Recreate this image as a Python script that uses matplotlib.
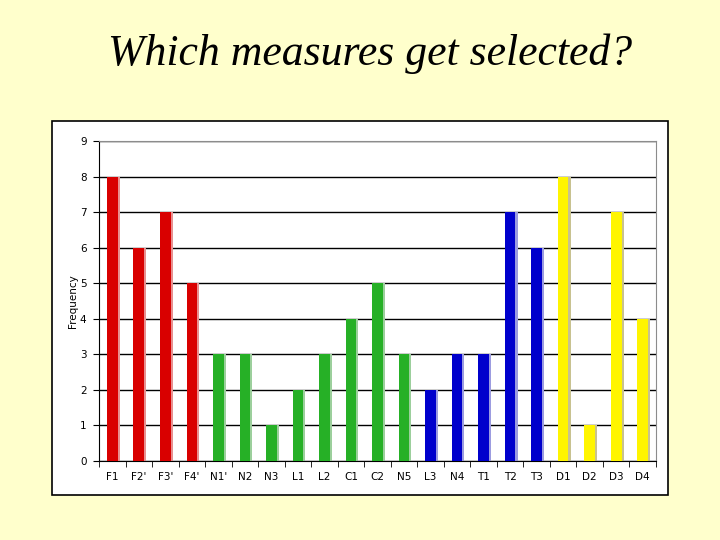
import matplotlib
matplotlib.use("Agg")
import matplotlib.pyplot as plt
from matplotlib.patches import Rectangle

# Measure categories and how often each got selected
MEASURES = ["F1", "F2'", "F3'", "F4'", "N1'", "N2", "N3", "L1", "L2", "C1",
            "C2", "N5", "L3", "N4", "T1", "T2", "T3", "D1", "D2", "D3", "D4"]
FREQUENCY = [8, 6, 7, 5, 3, 3, 1, 2, 3, 4, 5, 3, 2, 3, 3, 7, 6, 8, 1, 7, 4]
GROUP = ["F"] * 4 + ["N"] * 8 + ["T"] * 5 + ["D"] * 4

GROUP_COLORS = {"F": "#D90000", "N": "#26B026", "T": "#0000CC", "D": "#FFF500"}
SHADOW_COLORS = {"F": "#E89090", "N": "#9CCF9C", "T": "#9C9CE0", "D": "#C8C290"}
BG = "#FFFFCC"


def main():
    fig = plt.figure(figsize=(7.2, 5.4), dpi=100, facecolor=BG)

    # white chart panel with black border (behind the axes)
    fig.patches.append(Rectangle((52 / 720, 45 / 540), 616 / 720, 374 / 540,
                                 transform=fig.transFigure, facecolor="white",
                                 edgecolor="black", linewidth=1.2, zorder=-5))

    ax = fig.add_axes([99 / 720, 79 / 540, 557 / 720, 320 / 540])
    ax.set_zorder(2)
    ax.set_facecolor("white")

    x = list(range(len(MEASURES)))
    colors = [GROUP_COLORS[g] for g in GROUP]
    shadows = [SHADOW_COLORS[g] for g in GROUP]
    # soft drop shadow to the right of each bar
    ax.bar([i + 0.08 for i in x], FREQUENCY, width=0.4, color=shadows,
           zorder=2, linewidth=0)
    ax.bar(x, FREQUENCY, width=0.4, color=colors, zorder=3, linewidth=0)

    ax.set_xlim(-0.5, len(MEASURES) - 0.5)
    ax.set_ylim(0, 9)
    ax.set_yticks(range(10))
    ax.yaxis.grid(True, color="black", linewidth=1.0, zorder=1)
    ax.set_axisbelow(True)

    ax.set_xticks(x)
    ax.set_xticklabels(MEASURES)
    ax.set_xticks([i - 0.5 for i in range(len(MEASURES) + 1)], minor=True)
    ax.tick_params(axis="x", which="major", length=0, pad=8, labelsize=7.5)
    ax.tick_params(axis="x", which="minor", length=4, direction="out")
    ax.tick_params(axis="y", length=4, direction="out", labelsize=7.5, pad=5)
    ax.set_ylabel("Frequency", fontsize=7.5, labelpad=1)

    for side in ("top", "right"):
        ax.spines[side].set_color("0.55")
    for side in ("left", "bottom"):
        ax.spines[side].set_color("black")

    fig.text(0.514, 0.9, "Which measures get selected?", ha="center",
             va="center", fontsize=31.5, style="italic",
             family=["Liberation Serif", "DejaVu Serif"])

    fig.savefig("out.png", dpi=100, facecolor=BG)


if __name__ == "__main__":
    main()
